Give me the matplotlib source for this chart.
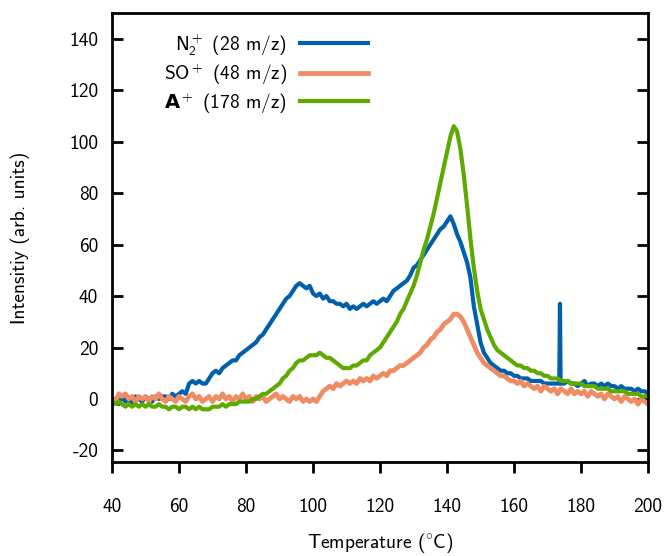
import matplotlib
matplotlib.use("Agg")
import numpy as np
import matplotlib.pyplot as plt

plt.rcParams["font.family"] = ["cmss10", "DejaVu Sans"]
plt.rcParams["mathtext.fontset"] = "custom"
plt.rcParams["mathtext.rm"] = "cmss10"
plt.rcParams["mathtext.bf"] = "DejaVu Sans:bold"
plt.rcParams["axes.unicode_minus"] = False

# temperature grid (deg C), 1 degree steps
temp = list(range(40, 201))

# N2+ (28 m/z)
n2 = [-1, 0, -2, 1, -1, 0, -2, 1, 0, -1,
      1, 0, -1, 1, 0, 1, 1, 0, 2, 1,
      2, 3, 2, 6, 7, 6, 7, 6, 6, 8,
      10, 11, 10, 12, 13, 14, 15, 15, 17, 18,
      19, 20, 21, 22, 24, 25, 27, 29, 31, 33,
      35, 37, 39, 40, 42, 44, 45, 44, 43, 44,
      41, 40, 41, 39, 40, 38, 38, 37, 37, 36,
      37, 35, 36, 35, 36, 37, 36, 37, 38, 37,
      38, 39, 38, 40, 42, 43, 44, 45, 46, 48,
      51, 52, 54, 56, 58, 60, 62, 64, 66, 67,
      69, 71, 68, 64, 61, 57, 53, 47, 36, 29,
      22, 18, 16, 14, 13, 12, 11, 11, 10, 10,
      9, 9, 8, 8, 8, 7, 7, 7, 7, 6,
      6, 6, 6, 6, 6, 6, 7, 6, 6, 5,
      6, 7, 5, 6, 6, 5, 6, 5, 6, 5,
      5, 4, 5, 4, 4, 4, 3, 4, 3, 3,
      2]
# narrow spike in the N2+ trace
spike_temp = [173.5, 173.7, 173.9]
spike_val = [6, 37, 6]

# SO+ (48 m/z)
so = [0, -1, 2, 1, 2, 0, 1, -1, 1, 0,
      1, -1, 1, 0, 2, 0, -1, 1, 0, -1,
      1, 0, -1, 1, 2, 0, 1, -1, 0, 1,
      -1, 1, 0, 2, 0, 1, -1, 1, 0, 2,
      0, 1, -1, 1, 0, 1, -1, 0, 1, 2,
      0, 1, 0, -1, 1, 0, 1, -1, 0, -1,
      0, -1, 1, 3, 4, 5, 4, 6, 5, 6,
      7, 6, 7, 6, 8, 7, 8, 7, 9, 8,
      9, 10, 9, 11, 11, 12, 13, 13, 14, 15,
      16, 17, 18, 20, 21, 23, 24, 26, 27, 29,
      30, 31, 33, 33, 32, 30, 27, 24, 21, 18,
      16, 14, 13, 12, 11, 10, 9, 9, 8, 7,
      7, 6, 7, 5, 6, 5, 4, 5, 3, 5,
      4, 3, 4, 2, 4, 3, 2, 4, 2, 3,
      2, 3, 1, 3, 2, 1, 2, 0, 2, 1,
      0, 1, -1, 1, 0, -1, 0, -2, 0, -1,
      -2]

# A+ (178 m/z)
a_ion = [-1, -2, -1, -2, -3, -2, -3, -2, -3, -2,
         -3, -2, -3, -3, -2, -3, -3, -4, -3, -3,
         -4, -3, -3, -4, -3, -4, -3, -4, -4, -4,
         -3, -3, -3, -2, -3, -2, -2, -2, -1, -1,
         -1, -1, 0, 0, 1, 2, 2, 3, 4, 5,
         6, 8, 9, 11, 12, 14, 15, 15, 16, 17,
         17, 17, 18, 17, 16, 16, 15, 14, 13, 12,
         12, 12, 13, 13, 14, 15, 15, 17, 18, 19,
         20, 22, 24, 26, 28, 30, 33, 35, 38, 41,
         44, 48, 53, 58, 62, 67, 72, 78, 84, 90,
         96, 102, 106, 104, 97, 87, 75, 62, 51, 42,
         35, 31, 27, 24, 21, 19, 18, 17, 16, 15,
         14, 13, 13, 12, 12, 11, 11, 10, 10, 9,
         9, 8, 8, 8, 7, 7, 7, 6, 6, 6,
         6, 5, 5, 5, 5, 4, 4, 4, 4, 3,
         3, 3, 3, 3, 2, 2, 2, 2, 1, 1,
         1]

labels = ["N$_2^+$ (28 m/z)", "SO$^+$ (48 m/z)", r"$\mathbf{A}^+$ (178 m/z)"]
colors = ["#0060ad", "#f08c64", "#5eaa00"]

# merge spike into the N2+ trace
n2_t = temp[:134] + spike_temp + temp[134:]
n2_v = n2[:134] + spike_val + n2[134:]

fig = plt.figure(figsize=(6.64, 5.56), dpi=100)
ax = fig.add_axes([0.1687, 0.169, 0.8073, 0.8076])

ax.plot(n2_t, n2_v, color=colors[0], lw=3, label=labels[0])
ax.plot(temp, so, color=colors[1], lw=3.4, label=labels[1])
ax.plot(temp, a_ion, color=colors[2], lw=3, label=labels[2])

ax.set_xlim(40, 200)
ax.set_ylim(-24.5, 150)
ax.set_xticks(np.arange(40, 201, 20))
ax.set_yticks(np.arange(-20, 141, 20))

for s in ax.spines.values():
    s.set_linewidth(2)
ax.tick_params(axis="x", direction="out", length=8, width=2, pad=18, labelsize=14)
ax.tick_params(axis="y", direction="in", length=8, width=2, pad=10, labelsize=14,
               left=True, right=True)

ax.set_xlabel("Temperature ($^{\\circ}$C)", fontsize=14, labelpad=11)
ax.set_ylabel("Intensitiy (arb. units)", fontsize=14, labelpad=28)

ax.legend(loc="upper right", bbox_to_anchor=(0.478, 0.958), frameon=False,
          markerfirst=False, fontsize=14, handlelength=3.5, handletextpad=0.67,
          labelspacing=0.2, borderpad=0, borderaxespad=0)

fig.savefig("out.png", dpi=100, facecolor="white")
